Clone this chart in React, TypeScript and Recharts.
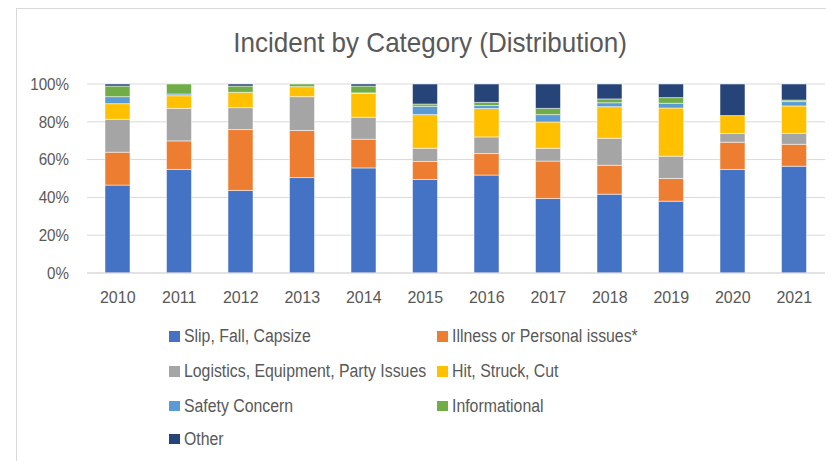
import React from "react";
import { Bar, BarChart, CartesianGrid, XAxis, YAxis } from "recharts";

const years = ["2010", "2011", "2012", "2013", "2014", "2015", "2016", "2017", "2018", "2019", "2020", "2021"];

// shares in percent (bottom to top)
const slipFall = [46.5, 54.8, 43.7, 50.5, 55.6, 49.5, 51.8, 39.4, 41.7, 38.0, 54.8, 56.5];
const illness = [17.4, 15.1, 32.2, 24.9, 15.2, 9.5, 11.4, 19.8, 15.3, 12.0, 14.4, 11.6];
const logistics = [17.4, 17.2, 11.6, 17.9, 11.6, 7.0, 8.8, 6.8, 14.3, 11.8, 4.6, 5.8];
const hitStruck = [8.3, 6.7, 8.1, 5.3, 12.7, 17.8, 15.0, 13.9, 16.7, 25.5, 9.5, 14.5];
const safety = [3.7, 0.9, 0, 0, 0.2, 4.4, 1.6, 3.9, 2.1, 2.5, 0, 2.3];
const informational = [5.6, 5.3, 3.3, 1.4, 3.6, 1.2, 1.7, 3.3, 2.0, 3.0, 0, 0.8];
const other = [1.1, 0, 1.1, 0, 1.1, 10.6, 9.7, 12.9, 7.9, 7.2, 16.7, 8.5];

const yTicks = [0, 0.2, 0.4, 0.6, 0.8, 1];

const series = [
  { key: "slip", name: "Slip, Fall, Capsize", color: "#4472C4", values: slipFall },
  { key: "illness", name: "Illness or Personal issues*", color: "#ED7D31", values: illness },
  { key: "logistics", name: "Logistics, Equipment, Party Issues", color: "#A5A5A5", values: logistics },
  { key: "hit", name: "Hit, Struck, Cut", color: "#FFC000", values: hitStruck },
  { key: "safety", name: "Safety Concern", color: "#5B9BD5", values: safety },
  { key: "info", name: "Informational", color: "#70AD47", values: informational },
  { key: "other", name: "Other", color: "#264478", values: other },
];

const chartData = years.map((year, i) => {
  const row: Record<string, string | number> = { year };
  series.forEach((s) => {
    row[s.key] = s.values[i];
  });
  return row;
});

// no narrow font installed, so squeeze Liberation Sans horizontally
const FONT = "'Liberation Sans', Arial, sans-serif";
const TEXT = "#595959";

function XTick({ x, y, payload }: any) {
  return (
    <g transform={`translate(${x},${y}) scale(0.97,1)`}>
      <text x={0} y={0} dy="0.71em" textAnchor="middle" fill={TEXT} fontSize={16.5} fontFamily={FONT}>
        {payload.value}
      </text>
    </g>
  );
}

function YTick({ x, y, payload }: any) {
  return (
    <g transform={`translate(${x},${y}) scale(0.92,1)`}>
      <text x={0} y={0} dy="0.355em" textAnchor="end" fill={TEXT} fontSize={16.5} fontFamily={FONT}>
        {`${Math.round(payload.value * 100)}%`}
      </text>
    </g>
  );
}

export default function App() {
  return (
    <div
      style={{
        position: "relative",
        width: 826,
        height: 453,
        overflow: "hidden",
        fontFamily: FONT,
        color: TEXT,
      }}
    >
      <div
        style={{
          position: "absolute",
          left: 8,
          top: 0,
          width: 840,
          height: 480,
          border: "1px solid #d9d9d9",
          boxSizing: "border-box",
        }}
      />
      <div
        style={{
          position: "absolute",
          left: 122,
          top: 21,
          width: 600,
          textAlign: "center",
          fontSize: 28,
          lineHeight: "28px",
          transform: "scaleX(0.93)",
          transformOrigin: "center",
        }}
      >
        Incident by Category (Distribution)
      </div>
      <div style={{ position: "absolute", left: 0, top: 0 }}>
        <BarChart
          width={826}
          height={453}
          data={chartData}
          stackOffset="expand"
          margin={{ top: 76, right: 9, bottom: 158, left: 19 }}
        >
          <CartesianGrid vertical={false} stroke="#d9d9d9" strokeWidth={1} />
          <XAxis
            dataKey="year"
            tickLine={false}
            axisLine={{ stroke: "#d9d9d9" }}
            tickSize={0}
            tickMargin={18}
            height={30}
            tick={<XTick />}
          />
          <YAxis
            domain={[0, 1]}
            ticks={yTicks}
            tickLine={false}
            axisLine={false}
            tickSize={0}
            tickMargin={18}
            width={60}
            tick={<YTick />}
          />
          {series.map((s) => (
            <Bar
              key={s.key}
              dataKey={s.key}
              name={s.name}
              stackId="a"
              fill={s.color}
              stroke="#ffffff"
              strokeWidth={0.5}
              barSize={25}
              isAnimationActive={false}
            />
          ))}
        </BarChart>
      </div>
      {series.map((s, i) => {
        const col = i % 2;
        const row = Math.floor(i / 2);
        const rowY = [328.7, 363.7, 398, 431][row];
        return (
          <div
            key={s.key}
            style={{
              position: "absolute",
              left: col === 0 ? 161 : 429,
              top: rowY - 12,
              height: 24,
              display: "flex",
              alignItems: "center",
              fontSize: 18,
              whiteSpace: "nowrap",
            }}
          >
            <span
              style={{
                display: "inline-block",
                width: 10.5,
                height: 10.5,
                background: s.color,
                marginRight: 4,
              }}
            />
            <span style={{ display: "inline-block", transform: "scaleX(0.88)", transformOrigin: "left center" }}>
              {s.name}
            </span>
          </div>
        );
      })}
    </div>
  );
}
